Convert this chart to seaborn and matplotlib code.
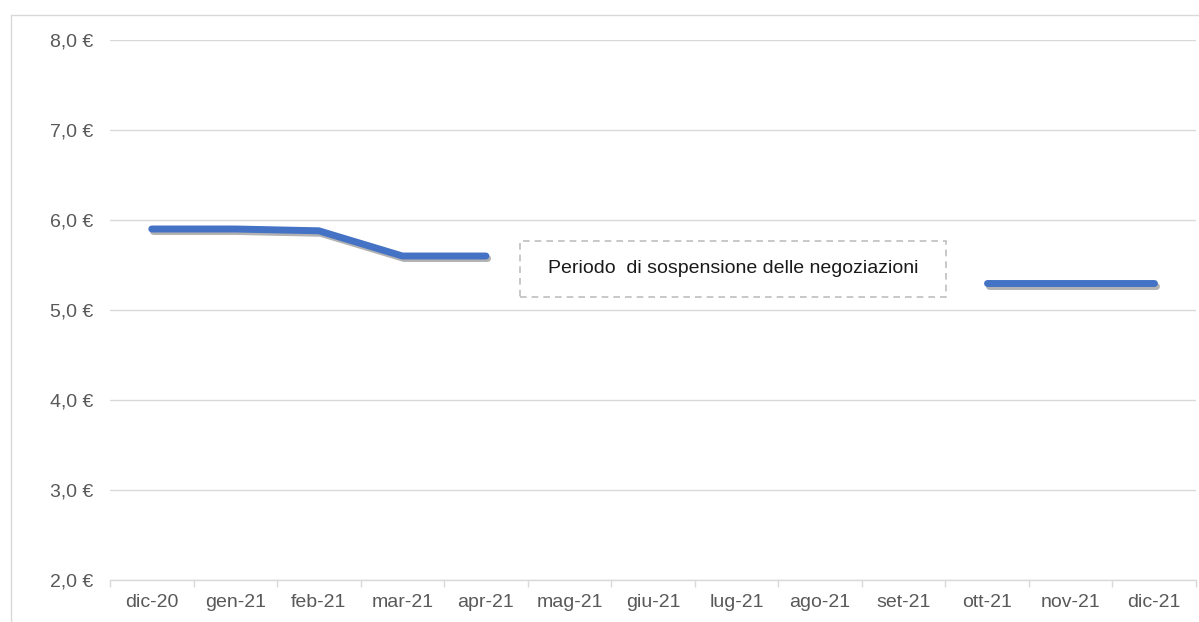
import numpy as np
import pandas as pd
import matplotlib
matplotlib.use("Agg")
import matplotlib.pyplot as plt
import matplotlib.patheffects as pe
from matplotlib.patches import Rectangle
from matplotlib.lines import Line2D
import seaborn as sns

months = ["dic-20", "gen-21", "feb-21", "mar-21", "apr-21", "mag-21", "giu-21",
          "lug-21", "ago-21", "set-21", "ott-21", "nov-21", "dic-21"]
prices = [5.90, 5.90, 5.88, 5.60, 5.60, np.nan, np.nan, np.nan, np.nan, np.nan, 5.30, 5.30, 5.30]
y_ticks = [2.0, 3.0, 4.0, 5.0, 6.0, 7.0, 8.0]
note_text = "Periodo  di sospensione delle negoziazioni"

sns.set_theme(style="white")
plt.rcParams["font.family"] = ["Liberation Sans", "DejaVu Sans"]

# build segments (gap where trading was suspended)
idx = np.arange(len(months))
seg = np.cumsum(np.isnan(prices))
df = pd.DataFrame({"idx": idx, "price": prices, "seg": seg}).dropna()

fig = plt.figure(figsize=(11.99, 6.22), dpi=100)
ax = fig.add_axes([110/1199, 42/622, 1086/1199, 540/622])

sns.lineplot(data=df, x="idx", y="price", units="seg", estimator=None,
             color="#4472C4", linewidth=5.0, ax=ax, legend=False)
for ln in ax.lines:
    ln.set_solid_capstyle("round")
    ln.set_solid_joinstyle("round")
    ln.set_path_effects([pe.SimpleLineShadow(offset=(1.2, -1.8), shadow_color="black", alpha=0.3),
                         pe.Normal()])

ax.set_xlim(-0.5, len(months) - 0.5)
ax.set_ylim(min(y_ticks), max(y_ticks))
ax.set_yticks(y_ticks)
ax.set_yticklabels([f"{v:.1f} €".replace(".", ",") for v in y_ticks])
ax.set_xticks(idx)
ax.set_xticklabels(months)
ax.set_xticks(np.arange(-0.5, len(months), 1.0), minor=True)
ax.set_xlabel("")
ax.set_ylabel("")

ax.grid(axis="y", color="#D9D9D9", linewidth=1.0)
ax.set_axisbelow(True)
for s in ["top", "right", "left"]:
    ax.spines[s].set_visible(False)
ax.spines["bottom"].set_color("#D9D9D9")
ax.spines["bottom"].set_linewidth(1.0)

ax.tick_params(axis="x", which="major", length=0, pad=10, labelsize=14, labelcolor="#595959")
ax.tick_params(axis="x", which="minor", length=5, width=1.0, color="#D9D9D9", bottom=True)
ax.tick_params(axis="y", length=0, pad=12, labelsize=14, labelcolor="#595959")

# annotation box
x0, x1 = 4.41, 9.51
y0, y1 = 5.145, 5.767
ax.add_patch(Rectangle((x0, y0), x1 - x0, y1 - y0, fill=False, edgecolor="#BFBFBF",
                       linewidth=1.2, linestyle=(0, (4, 3)), zorder=3))
ax.text((x0 + x1) / 2, (y0 + y1) / 2, note_text, ha="center", va="center",
        fontsize=14, color="#1a1a1a", zorder=4)

# outer chart frame
fig.add_artist(Line2D([11/1199, 11/1199], [0, 1 - 15/622], transform=fig.transFigure,
                      color="#D9D9D9", linewidth=1.0))
fig.add_artist(Line2D([11/1199, 1], [1 - 15/622, 1 - 15/622], transform=fig.transFigure,
                      color="#D9D9D9", linewidth=1.0))

fig.savefig("out.png", dpi=100, facecolor="white")
